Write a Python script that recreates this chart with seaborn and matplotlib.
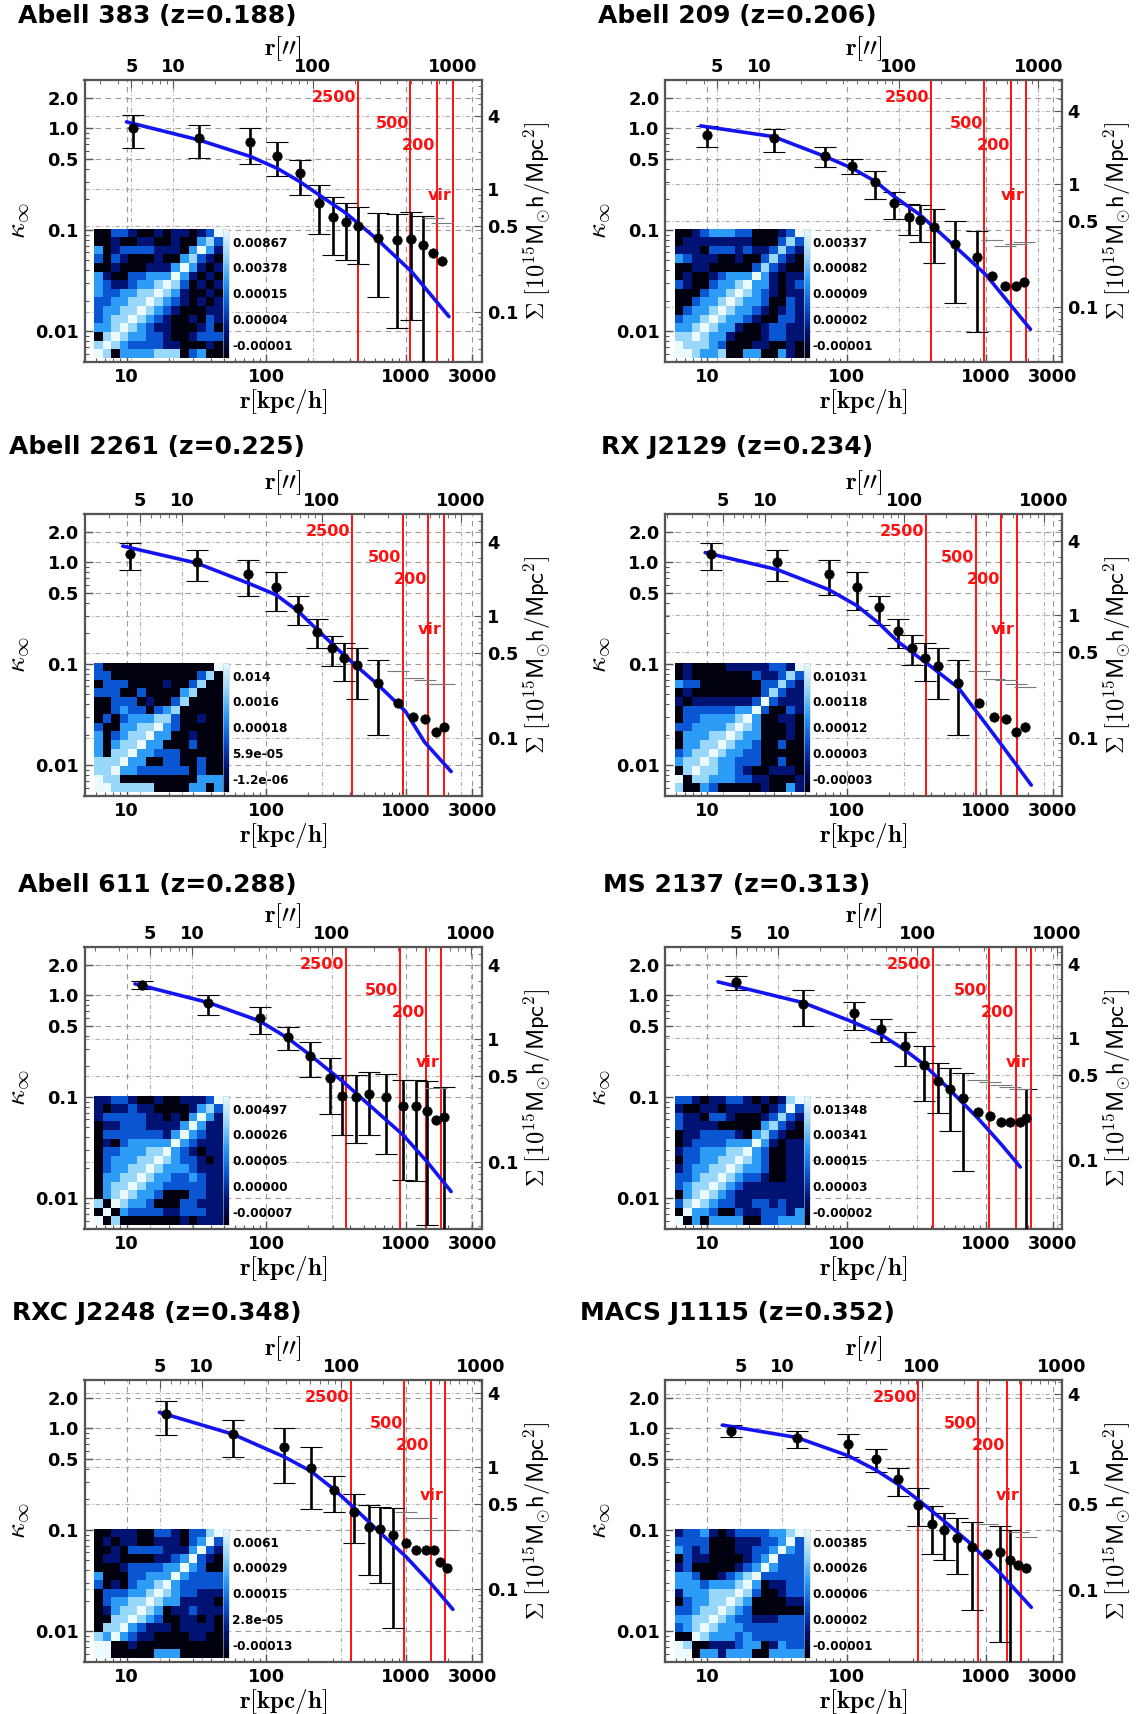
import numpy as np
import matplotlib
matplotlib.use("Agg")
import matplotlib.pyplot as plt
import seaborn as sns
from matplotlib.colors import LinearSegmentedColormap
from matplotlib.ticker import FixedLocator, FixedFormatter, NullFormatter, LogLocator

nan = np.nan

# ---------------- data ----------------
cluster_names = ["Abell 383", "Abell 209", "Abell 2261", "RX J2129",
                 "Abell 611", "MS 2137", "RXC J2248", "MACS J1115"]
cluster_z = ["0.188", "0.206", "0.225", "0.234", "0.288", "0.313", "0.348", "0.352"]
kpc_per_arcsec = [2.17, 2.37, 2.5, 2.6, 2.95, 3.22, 3.46, 3.47]
sigma_limits = [(0.039, 7.8), (0.0355, 7.1), (0.0338, 6.8), (0.0334, 6.7),
                (0.0283, 5.66), (0.0274, 5.5), (0.0256, 5.1), (0.0258, 5.16)]
delta_labels = ["2500", "500", "200", "vir"]

# Abell 383
a383_r = [11.1, 33, 77, 120, 174, 239, 303, 372, 458, 631, 867, 1100, 1330, 1563, 1815]
a383_k = [1.0, 0.80, 0.73, 0.54, 0.36, 0.184, 0.135, 0.119, 0.109, 0.083, 0.079, 0.082, 0.071, 0.059, 0.049]
a383_hi = [1.35, 1.08, 1.0, 0.74, 0.49, 0.276, 0.21, 0.185, 0.17, 0.147, 0.145, 0.15, 0.136, 0.13, 0.117]
a383_lo = [0.64, 0.51, 0.45, 0.34, 0.22, 0.091, 0.056, 0.051, 0.046, 0.022, 0.0107, 0.013, 0, nan, nan]
a383_model_r = [10, 33, 77, 120, 174, 239, 372, 631, 1100, 2047]
a383_model_k = [1.16, 0.77, 0.53, 0.405, 0.30, 0.222, 0.147, 0.080, 0.039, 0.014]
a383_rdelta = [455, 1081, 1670, 2183]
a383_cbar = ["0.00867", "0.00378", "0.00015", "0.00004", "-0.00001"]
a383_cov = ["002210010110125", "001001100100342", "301222211103531", "202100010034210",
            "001000111353101", "310022333531010", "321123345420101", "322334454310010",
            "223344543210101", "233445432100011", "234454321001021", "334543211000120",
            "045433221001222", "454322221100010", "540333344402300"]

# Abell 209
a209_r = [10, 30, 70, 110, 161, 219, 279, 336, 424, 598, 855, 1107, 1364, 1637, 1866]
a209_k = [0.87, 0.80, 0.535, 0.43, 0.30, 0.184, 0.134, 0.124, 0.106, 0.072, 0.054, 0.035, 0.028, 0.028, 0.031]
a209_hi = [1.05, 0.985, 0.65, 0.50, 0.385, 0.236, 0.18, 0.175, 0.162, 0.122, 0.097, 0.080, 0.069, 0.072, 0.076]
a209_lo = [0.65, 0.58, 0.42, 0.355, 0.203, 0.128, 0.089, 0.076, 0.047, 0.019, 0.0098, nan, nan, nan, nan]
a209_model_r = [9.0, 30, 70, 110, 161, 219, 336, 598, 1000, 2080]
a209_model_k = [1.06, 0.83, 0.53, 0.405, 0.30, 0.214, 0.141, 0.069, 0.036, 0.0105]
a209_rdelta = [400, 970, 1514, 1933]
a209_cbar = ["0.00337", "0.00082", "0.00009", "0.00002", "-0.00001"]
a209_cov = ["001233322000125", "011111111000242", "111022212112421", "321110010024210",
            "001100000242100", "010012333531011", "210023345331012", "000233454321011",
            "002334543320021", "023345433210121", "233454332100221", "334543310012211",
            "445433100012211", "544432000110010", "554334003300310"]

# Abell 2261
a2261_r = [10.6, 31.9, 74.5, 118, 170, 233, 295, 360, 450, 637, 887, 1127, 1367, 1650, 1900]
a2261_k = [1.21, 1.0, 0.77, 0.57, 0.355, 0.208, 0.143, 0.114, 0.098, 0.065, 0.041, 0.030, 0.029, 0.0215, 0.0238]
a2261_hi = [1.55, 1.33, 1.06, 0.80, 0.47, 0.28, 0.19, 0.16, 0.145, 0.11, 0.086, 0.072, 0.070, 0.063, 0.063]
a2261_lo = [0.85, 0.66, 0.47, 0.33, 0.24, 0.143, 0.096, 0.068, 0.045, 0.020, nan, nan, nan, nan, nan]
a2261_model_r = [9.4, 31.9, 74.5, 118, 170, 233, 360, 637, 1000, 1367, 2120]
a2261_model_k = [1.45, 0.985, 0.625, 0.48, 0.33, 0.217, 0.123, 0.062, 0.034, 0.017, 0.0087]
a2261_rdelta = [413, 953, 1452, 1870]
a2261_cbar = ["0.014", "0.0016", "0.00018", "5.9e-05", "-1.2e-06"]
a2261_cov = ["200000000000005", "220000000000240", "022200001002400", "222002000034000",
             "002220100240000", "002322023400000", "020233344200100", "200334453200000",
             "302344533001000", "303445330002000", "304453322200000", "444533002200200",
             "445332222220200", "544000000000333", "554444400003303"]

# RX J2129
rxj2129_r = [10.6, 31.9, 74.5, 118, 170, 233, 295, 364, 450, 634, 897, 1141, 1400, 1650, 1900]
rxj2129_k = [1.22, 1.0, 0.77, 0.57, 0.36, 0.213, 0.145, 0.115, 0.096, 0.065, 0.041, 0.030, 0.029, 0.0215, 0.0238]
rxj2129_hi = [1.55, 1.33, 1.06, 0.80, 0.47, 0.28, 0.193, 0.16, 0.145, 0.11, 0.086, 0.071, 0.070, 0.063, 0.059]
rxj2129_lo = [0.85, 0.65, 0.48, 0.34, 0.24, 0.143, 0.097, 0.068, 0.045, 0.020, nan, nan, nan, nan, nan]
rxj2129_model_r = [9.7, 31.9, 74.5, 118, 170, 233, 364, 634, 897, 1288, 2108]
rxj2129_model_k = [1.25, 0.85, 0.54, 0.377, 0.252, 0.166, 0.105, 0.058, 0.031, 0.016, 0.0064]
rxj2129_rdelta = [371, 845, 1288, 1656]
rxj2129_cbar = ["0.01031", "0.00118", "0.00012", "0.00003", "-0.00003"]
rxj2129_cov = ["010000111112215", "010000000211242", "322000000022421", "010000000024211",
               "101111111252111", "022222233520021", "022333345300110", "223333454300010",
               "033344543300010", "033445433200200", "234454332200000", "344543322200200",
               "045443321001110", "504433322110001", "400320000010031"]

# Abell 611
a611_r = [12.9, 38.6, 90, 143, 206, 286, 353, 441, 545, 728, 963, 1190, 1425, 1656, 1900]
a611_k = [1.26, 0.85, 0.60, 0.39, 0.252, 0.154, 0.103, 0.099, 0.108, 0.099, 0.081, 0.081, 0.073, 0.059, 0.063]
a611_hi = [1.38, 1.0, 0.77, 0.49, 0.346, 0.24, 0.166, 0.163, 0.177, 0.17, 0.147, 0.147, 0.143, 0.123, 0.125]
a611_lo = [1.15, 0.64, 0.42, 0.29, 0.156, 0.068, 0.042, 0.035, 0.042, 0.0274, 0.0152, 0.015, 0.0055, nan, 0]
a611_model_r = [11.5, 38.6, 90, 143, 206, 286, 353, 545, 963, 1425, 2120]
a611_model_k = [1.30, 0.85, 0.56, 0.38, 0.26, 0.18, 0.143, 0.084, 0.042, 0.023, 0.0117]
a611_rdelta = [375, 914, 1409, 1790]
a611_cbar = ["0.00497", "0.00026", "0.00005", "0.00000", "-0.00007"]
a611_cov = ["112210010011125", "101121100001342", "122222110103531", "011222111135311",
            "022222221353211", "010233333532111", "022333445321011", "023334454322101",
            "023344543332111", "033445433223211", "034454332222211", "034543320002211",
            "405433200022111", "050322221122211", "504000000010111"]

# MS 2137
ms2137_r = [16.2, 48.6, 114, 177, 262, 360, 450, 548, 685, 871, 1075, 1288, 1496, 1738, 1937]
ms2137_k = [1.36, 0.815, 0.665, 0.47, 0.32, 0.208, 0.145, 0.121, 0.098, 0.071, 0.065, 0.057, 0.057, 0.057, 0.062]
ms2137_hi = [1.55, 1.13, 0.87, 0.59, 0.435, 0.32, 0.216, 0.193, 0.172, 0.146, 0.14, 0.13, 0.125, 0.12, 0.12]
ms2137_lo = [1.12, 0.50, 0.46, 0.346, 0.20, 0.091, 0.069, 0.0465, 0.0188, nan, nan, nan, nan, nan, 0]
ms2137_model_r = [12.0, 48.6, 114, 177, 262, 360, 548, 871, 1288, 1758]
ms2137_model_k = [1.36, 0.85, 0.54, 0.41, 0.29, 0.208, 0.118, 0.062, 0.034, 0.0204]
ms2137_rdelta = [418, 1042, 1637, 2108]
ms2137_cbar = ["0.01348", "0.00341", "0.00015", "0.00003", "-0.00002"]
ms2137_cov = ["221011221010145", "100110111101252", "211022100012421", "211110000034210",
              "011222210342100", "012222333531011", "122333445320011", "022334454320011",
              "123344543320011", "223445432210011", "234454321111111", "034543211111111",
              "245432211221211", "053320021122213", "503033330022333"]

# RXC J2248
rxcj2248_r = [19.1, 57.5, 135, 209, 308, 426, 545, 656, 811, 1000, 1197, 1393, 1589, 1770, 1995]
rxcj2248_k = [1.38, 0.88, 0.66, 0.41, 0.25, 0.15, 0.108, 0.102, 0.089, 0.074, 0.063, 0.063, 0.064, 0.048, 0.042]
rxcj2248_hi = [1.88, 1.21, 1.02, 0.66, 0.34, 0.225, 0.177, 0.17, 0.166, 0.15, 0.13, 0.13, 0.10, 0.10, 0.099]
rxcj2248_lo = [0.87, 0.52, 0.29, 0.16, 0.15, 0.075, 0.036, 0.030, 0.0109, nan, nan, nan, nan, nan, nan]
rxcj2248_model_r = [17.2, 57.5, 135, 209, 308, 426, 656, 1000, 1542, 2183]
rxcj2248_model_k = [1.44, 0.88, 0.525, 0.38, 0.25, 0.166, 0.094, 0.055, 0.029, 0.0165]
rxcj2248_rdelta = [403, 982, 1525, 1928]
rxcj2248_cbar = ["0.0061", "0.00029", "0.00015", "2.8e-05", "-0.00013"]
rxcj2248_cov = ["001110022102245", "010110011102352", "001022221113521", "011000011235210",
                "000122223353200", "300022333532222", "201023345322222", "022233454322111",
                "023344543311110", "013445430112111", "004454320011010", "044532111011110",
                "435321100001100", "550010000000000", "550000033300000"]

# MACS J1115
macsj1115_r = [14.8, 43.9, 102, 162, 235, 323, 411, 498, 618, 787, 1023, 1250, 1480, 1687, 1928]
macsj1115_k = [0.95, 0.80, 0.70, 0.50, 0.316, 0.175, 0.114, 0.10, 0.083, 0.068, 0.058, 0.061, 0.051, 0.045, 0.042]
macsj1115_hi = [1.08, 0.95, 0.88, 0.625, 0.41, 0.257, 0.172, 0.148, 0.13, 0.12, 0.114, 0.11, 0.10, 0.096, 0.085]
macsj1115_lo = [0.83, 0.635, 0.52, 0.37, 0.217, 0.11, 0.058, 0.050, 0.037, 0.0162, nan, 0.0078, 0, nan, nan]
macsj1115_model_r = [12.9, 43.9, 102, 162, 235, 323, 498, 787, 1250, 2108]
macsj1115_model_k = [1.08, 0.815, 0.54, 0.39, 0.28, 0.20, 0.123, 0.072, 0.038, 0.0173]
macsj1115_rdelta = [327, 881, 1409, 1790]
macsj1115_cbar = ["0.00385", "0.00026", "0.00006", "0.00002", "-0.00001"]
macsj1115_cov = ["122310122223345", "222200011122352", "321200011223532", "021100001235222",
                 "120000012353222", "332001234522222", "333233345301122", "133344454200122",
                 "023344543000011", "223445432000000", "334454322111222", "234543332222222",
                 "005433323222222", "540011123301322", "550331333003333"]

panels = [
    (a383_r, a383_k, a383_hi, a383_lo, a383_model_r, a383_model_k, a383_rdelta, a383_cbar, a383_cov),
    (a209_r, a209_k, a209_hi, a209_lo, a209_model_r, a209_model_k, a209_rdelta, a209_cbar, a209_cov),
    (a2261_r, a2261_k, a2261_hi, a2261_lo, a2261_model_r, a2261_model_k, a2261_rdelta, a2261_cbar, a2261_cov),
    (rxj2129_r, rxj2129_k, rxj2129_hi, rxj2129_lo, rxj2129_model_r, rxj2129_model_k, rxj2129_rdelta, rxj2129_cbar, rxj2129_cov),
    (a611_r, a611_k, a611_hi, a611_lo, a611_model_r, a611_model_k, a611_rdelta, a611_cbar, a611_cov),
    (ms2137_r, ms2137_k, ms2137_hi, ms2137_lo, ms2137_model_r, ms2137_model_k, ms2137_rdelta, ms2137_cbar, ms2137_cov),
    (rxcj2248_r, rxcj2248_k, rxcj2248_hi, rxcj2248_lo, rxcj2248_model_r, rxcj2248_model_k, rxcj2248_rdelta, rxcj2248_cbar, rxcj2248_cov),
    (macsj1115_r, macsj1115_k, macsj1115_hi, macsj1115_lo, macsj1115_model_r, macsj1115_model_k, macsj1115_rdelta, macsj1115_cbar, macsj1115_cov),
]

# ---------------- style ----------------
sns.set_style("white")
plt.rcParams["font.family"] = ["DejaVu Sans"]
plt.rcParams["font.weight"] = "bold"
plt.rcParams["mathtext.fontset"] = "cm"
for key in ("text.color", "axes.labelcolor", "xtick.color", "ytick.color"):
    plt.rcParams[key] = "black"

cov_cmap = LinearSegmentedColormap.from_list(
    "cov", ["#00000e", "#001273", "#0a55d2", "#2c9cf6", "#9ad8fb", "#eafaff"])

W, H = 1136, 1714
fig = plt.figure(figsize=(W / 100, H / 100), dpi=100)

col_left = [84.5, 665]
ax_w = 397
row_top = [80, 514, 947, 1380]
ax_h = 282
title_x = [157, 737]
title_y = [16, 447, 885, 1313]

spine_col = "#555555"
delta_k = [2.0, 1.12, 0.68, 0.22]

for i, (r, k, hi, lo, mr, mk, rd, cbl, cov) in enumerate(panels):
    row, col = divmod(i, 2)
    left = col_left[col] / W
    bottom = 1 - (row_top[row] + ax_h) / H
    ax = fig.add_axes([left, bottom, ax_w / W, ax_h / H])
    ax_r = ax.twinx()
    ax_t = ax.twiny()
    ax.set_zorder(3)
    ax.patch.set_visible(False)

    r = np.array(r, float); k = np.array(k, float)
    hi = np.array(hi, float); lo = np.array(lo, float)

    ax.set_xscale("log"); ax.set_yscale("log")
    ax.set_xlim(5, 3500); ax.set_ylim(0.005, 3.0)

    # model curve
    sns.lineplot(x=mr, y=mk, ax=ax, color="#1414f0", lw=2.6, sort=False,
                 estimator=None, legend=False, zorder=4)

    # error bars
    m = np.isfinite(lo)
    lo_plot = np.where(lo > 0, lo, 1e-6)
    eb = ax.errorbar(r[m], k[m], yerr=[k[m] - lo_plot[m], hi[m] - k[m]], fmt="none",
                     ecolor="black", elinewidth=1.9, capsize=8, capthick=0.8, zorder=3)
    for cl in eb[1]:
        cl.set_color("#7a7a7a")
    ax.plot(r[~m], hi[~m], ls="none", marker="_", ms=16, mew=0.8, color="#7a7a7a", zorder=3)

    sns.scatterplot(x=r, y=k, ax=ax, color="black", s=46, edgecolor="black",
                    linewidth=0.5, zorder=5, legend=False)

    # overdensity radii
    for rv, lab, yk in zip(rd, delta_labels, delta_k):
        ax.axvline(rv, color="#ff1010", lw=1.4, zorder=2)
        ax.text(rv * 0.975, yk, lab, color="#ff1010", ha="right", va="center",
                fontsize=11.5, fontweight="bold", zorder=6)

    # axes ticks
    ax.xaxis.set_major_locator(FixedLocator([10, 100, 1000, 3000]))
    ax.xaxis.set_major_formatter(FixedFormatter(["10", "100", "1000", "3000"]))
    ax.xaxis.set_minor_locator(LogLocator(base=10, subs=np.arange(2, 10)))
    ax.xaxis.set_minor_formatter(NullFormatter())
    ax.yaxis.set_major_locator(FixedLocator([0.01, 0.1, 0.5, 1.0, 2.0]))
    ax.yaxis.set_major_formatter(FixedFormatter(["0.01", "0.1", "0.5", "1.0", "2.0"]))
    ax.yaxis.set_minor_locator(LogLocator(base=10, subs=np.arange(2, 10)))
    ax.yaxis.set_minor_formatter(NullFormatter())
    ax.tick_params(which="both", direction="in", top=False, right=False,
                   labelsize=12.8, labelcolor="black")
    ax.tick_params(which="major", length=6, width=1.0, color=spine_col, pad=4)
    ax.tick_params(which="minor", length=3, width=0.8, color=spine_col)
    ax.grid(True, which="major", ls=(0, (5, 4)), color="#9a9a9a", lw=0.8)

    # top axis (arcsec)
    f = kpc_per_arcsec[i]
    ax_t.set_xscale("log")
    ax_t.set_xlim(5 / f, 3500 / f)
    ax_t.xaxis.set_major_locator(FixedLocator([5, 10, 100, 1000]))
    ax_t.xaxis.set_major_formatter(FixedFormatter(["5", "10", "100", "1000"]))
    ax_t.xaxis.set_minor_locator(LogLocator(base=10, subs=np.arange(2, 10)))
    ax_t.xaxis.set_minor_formatter(NullFormatter())
    ax_t.tick_params(which="both", direction="in", labelsize=12.8, pad=3, labelcolor="black")
    ax_t.tick_params(which="major", length=6, color=spine_col)
    ax_t.tick_params(which="minor", length=3, color=spine_col)
    ax_t.grid(True, which="major", axis="x", ls=(0, (4, 2, 1, 2)), color="#b0b0b0", lw=0.8)
    ax_t.set_xlabel(r"$\mathbf{r}[\prime\prime]$", fontsize=18, labelpad=2)

    # right axis (Sigma)
    s_lo, s_hi = sigma_limits[i]
    ax_r.set_yscale("log")
    ax_r.set_ylim(s_lo, s_hi)
    ax_r.yaxis.set_major_locator(FixedLocator([0.1, 0.5, 1, 4]))
    ax_r.yaxis.set_major_formatter(FixedFormatter(["0.1", "0.5", "1", "4"]))
    ax_r.yaxis.set_minor_locator(LogLocator(base=10, subs=np.arange(2, 10)))
    ax_r.yaxis.set_minor_formatter(NullFormatter())
    ax_r.tick_params(which="both", direction="in", labelsize=12.8, pad=4, labelcolor="black")
    ax_r.tick_params(which="major", length=6, color=spine_col)
    ax_r.tick_params(which="minor", length=3, color=spine_col)
    ax_r.grid(True, which="major", axis="y", ls=(0, (4, 2, 1, 2)), color="#b0b0b0", lw=0.8)
    ax_r.set_ylabel(r"$\Sigma\ \mathbf{[}10^{15}\mathsf{M}_{\odot}\mathsf{h/Mpc}^{2}\mathbf{]}$",
                    fontsize=17.5, labelpad=2)

    ax.set_xlabel(r"$\mathbf{r}[\mathbf{kpc/h}]$", fontsize=18, labelpad=1)
    ax.set_ylabel(r"$\kappa_\infty$", fontsize=20, labelpad=2)

    for a in (ax, ax_r, ax_t):
        for s in a.spines.values():
            s.set_color(spine_col)
            s.set_linewidth(1.5)

    # covariance inset
    mat = np.array([[int(c) for c in row_s[:15].ljust(15, "0")] for row_s in cov[:15]])
    iax = ax.inset_axes([0.024, 0.015, 0.325, 0.458])
    cax = ax.inset_axes([0.349, 0.015, 0.016, 0.458])
    sns.heatmap(mat, ax=iax, cmap=cov_cmap, vmin=0, vmax=5, cbar_ax=cax,
                xticklabels=False, yticklabels=False,
                cbar_kws={"ticks": [0.5, 1.5, 2.5, 3.5, 4.5]})
    cax.set_yticklabels(cbl[::-1])
    cax.tick_params(length=0, labelsize=8.7, pad=2, labelcolor="black")
    for t in cax.get_yticklabels():
        t.set_fontweight("bold")
    for s in cax.spines.values():
        s.set_linewidth(0.4)
        s.set_color("#cccccc")

    fig.text(title_x[col] / W, 1 - title_y[row] / H,
             f"{cluster_names[i]} (z={cluster_z[i]})",
             ha="center", va="center", fontsize=18, fontweight="bold", color="black")

fig.savefig("out.png", dpi=100)
